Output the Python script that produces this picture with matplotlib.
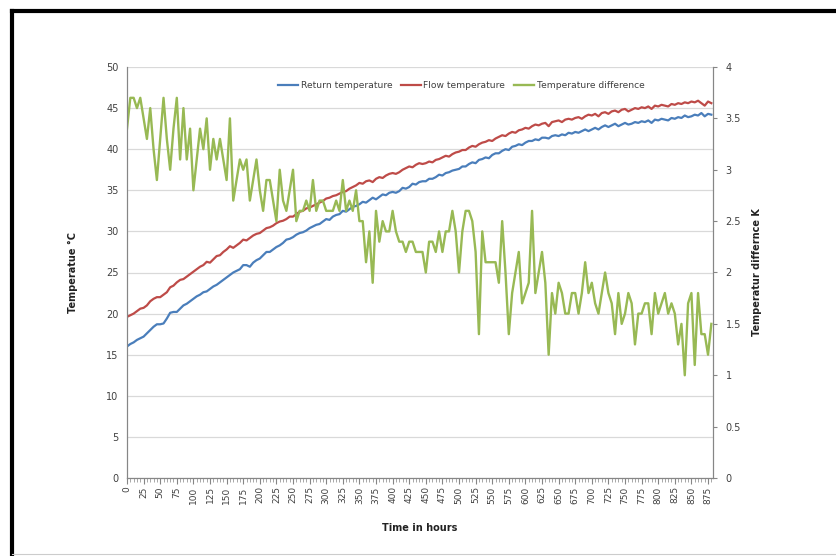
import matplotlib
matplotlib.use("Agg")
import matplotlib.pyplot as plt
from matplotlib.lines import Line2D

# time axis: one reading every 5 hours
hours = list(range(0, 885, 5))

return_temp = [
    16.0, 16.3, 16.5, 16.8, 17.0, 17.2, 17.6, 18.0, 18.4, 18.7,
    18.7, 18.8, 19.4, 20.1, 20.2, 20.2, 20.6, 21.0, 21.2, 21.5,
    21.8, 22.1, 22.3, 22.6, 22.7, 23.0, 23.3, 23.5, 23.8, 24.1,
    24.4, 24.7, 25.0, 25.2, 25.4, 25.9, 25.9, 25.7, 26.2, 26.5,
    26.7, 27.1, 27.5, 27.5, 27.8, 28.1, 28.3, 28.6, 29.0, 29.1,
    29.3, 29.6, 29.8, 29.9, 30.1, 30.4, 30.6, 30.8, 30.9, 31.2,
    31.5, 31.4, 31.8, 32.0, 32.1, 32.5, 32.4, 32.7, 33.0, 33.1,
    33.3, 33.6, 33.5, 33.8, 34.1, 33.9, 34.2, 34.5, 34.4, 34.7,
    34.8, 34.7, 34.9, 35.3, 35.2, 35.4, 35.8, 35.7, 36.0, 36.1,
    36.1, 36.4, 36.4, 36.6, 36.9, 36.8, 37.1, 37.2, 37.4, 37.5,
    37.6, 37.9, 37.9, 38.2, 38.4, 38.3, 38.7, 38.8, 39.0, 38.9,
    39.3, 39.5, 39.5, 39.8, 40.0, 39.9, 40.3, 40.4, 40.6, 40.5,
    40.8, 41.0, 41.0, 41.2, 41.1, 41.4, 41.4, 41.3, 41.6, 41.7,
    41.6, 41.8, 41.7, 42.0, 41.9, 42.1, 42.0, 42.2, 42.4, 42.2,
    42.4, 42.6, 42.4, 42.7, 42.9, 42.7, 42.9, 43.1, 42.8, 43.0,
    43.2, 43.0, 43.1, 43.3, 43.2, 43.4, 43.3, 43.5, 43.2, 43.6,
    43.5, 43.7, 43.6, 43.5, 43.8, 43.7, 43.9, 43.8, 44.1, 43.9,
    44.0, 44.2, 44.1, 44.4, 44.0, 44.3, 44.2,
]

flow_temp = [
    19.6, 19.8, 20.0, 20.3, 20.6, 20.7, 21.0, 21.5, 21.8, 22.0,
    22.0, 22.3, 22.6, 23.2, 23.4, 23.8, 24.1, 24.2, 24.5, 24.8,
    25.1, 25.4, 25.7, 25.9, 26.3, 26.2, 26.6, 27.0, 27.1, 27.5,
    27.8, 28.2, 28.0, 28.3, 28.6, 29.0, 28.9, 29.2, 29.5, 29.7,
    29.8, 30.1, 30.4, 30.5, 30.7, 31.0, 31.2, 31.3, 31.5, 31.8,
    31.8, 32.1, 32.4, 32.5, 32.8, 32.9, 33.1, 33.3, 33.5, 33.7,
    34.0, 34.1, 34.3, 34.4, 34.6, 34.8, 34.9, 35.2, 35.4, 35.6,
    35.9, 35.8, 36.1, 36.2, 36.0, 36.4, 36.6, 36.5, 36.8, 37.0,
    37.1, 37.0, 37.2, 37.5, 37.7, 37.9, 37.8, 38.1, 38.3, 38.2,
    38.3, 38.5, 38.4, 38.7, 38.8, 39.0, 39.2, 39.1, 39.4, 39.6,
    39.7, 39.9, 39.9, 40.2, 40.4, 40.3, 40.6, 40.8, 40.9, 41.1,
    41.0, 41.3, 41.5, 41.7, 41.6, 41.9, 42.1, 42.0, 42.3, 42.4,
    42.6, 42.5, 42.8, 43.0, 42.9, 43.1, 43.2, 42.8, 43.3, 43.4,
    43.5, 43.3, 43.6, 43.7, 43.6, 43.8, 43.9, 43.7, 44.0, 44.2,
    44.1, 44.3, 44.0, 44.4, 44.5, 44.3, 44.6, 44.7, 44.5, 44.8,
    44.9, 44.6, 44.8, 45.0, 44.9, 45.1, 45.0, 45.2, 44.9, 45.3,
    45.2, 45.4, 45.3, 45.2, 45.5, 45.4, 45.6, 45.5, 45.7, 45.6,
    45.8, 45.7, 45.9, 45.6, 45.3, 45.8, 45.6,
]

temp_diff = [
    3.4, 3.7, 3.7, 3.6, 3.7, 3.5, 3.3, 3.6, 3.2, 2.9,
    3.3, 3.7, 3.3, 3.0, 3.4, 3.7, 3.1, 3.6, 3.1, 3.4,
    2.8, 3.1, 3.4, 3.2, 3.5, 3.0, 3.3, 3.1, 3.3, 3.1,
    2.9, 3.5, 2.7, 2.9, 3.1, 3.0, 3.1, 2.7, 2.9, 3.1,
    2.8, 2.6, 2.9, 2.9, 2.7, 2.5, 3.0, 2.7, 2.6, 2.8,
    3.0, 2.5, 2.6, 2.6, 2.7, 2.6, 2.9, 2.6, 2.7, 2.7,
    2.6, 2.6, 2.6, 2.7, 2.6, 2.9, 2.6, 2.7, 2.6, 2.8,
    2.5, 2.5, 2.1, 2.4, 1.9, 2.6, 2.3, 2.5, 2.4, 2.4,
    2.6, 2.4, 2.3, 2.3, 2.2, 2.3, 2.3, 2.2, 2.2, 2.2,
    2.0, 2.3, 2.3, 2.2, 2.4, 2.2, 2.4, 2.4, 2.6, 2.4,
    2.0, 2.4, 2.6, 2.6, 2.5, 2.2, 1.4, 2.4, 2.1, 2.1,
    2.1, 2.1, 1.9, 2.5, 2.0, 1.4, 1.8, 2.0, 2.2, 1.7,
    1.8, 1.9, 2.6, 1.8, 2.0, 2.2, 1.9, 1.2, 1.8, 1.6,
    1.9, 1.8, 1.6, 1.6, 1.8, 1.8, 1.6, 1.8, 2.1, 1.8,
    1.9, 1.7, 1.6, 1.8, 2.0, 1.8, 1.7, 1.4, 1.8, 1.5,
    1.6, 1.8, 1.7, 1.3, 1.6, 1.6, 1.7, 1.7, 1.4, 1.8,
    1.6, 1.7, 1.8, 1.6, 1.7, 1.6, 1.3, 1.5, 1.0, 1.7,
    1.8, 1.1, 1.8, 1.4, 1.4, 1.2, 1.5,
]

BLUE = "#4a7ebb"
RED = "#be4b48"
GREEN = "#98b954"
TXT = "#404040"
AXC = "#868686"

fig = plt.figure(figsize=(8.36, 5.56), dpi=100)
ax = fig.add_axes([127 / 836, 1 - 478 / 556, 586 / 836, 411 / 556])
ax2 = ax.twinx()

# categories drawn as positions 0..n-1 (Excel style category axis)
pos = list(range(len(hours)))
ax.plot(pos, return_temp, color=BLUE, lw=1.6)
ax.plot(pos, flow_temp, color=RED, lw=1.6)
ax2.plot(pos, temp_diff, color=GREEN, lw=1.7)

ax.set_xlim(0, len(hours) - 0.5)
ax.set_ylim(0, 50)
ax2.set_ylim(0, 4)
ax.set_yticks(range(0, 51, 5))
ax2.set_yticks([0, 0.5, 1, 1.5, 2, 2.5, 3, 3.5, 4])
ax2.set_yticklabels(["0", "0.5", "1", "1.5", "2", "2.5", "3", "3.5", "4"])

ax.set_xticks(pos[::5])
ax.set_xticklabels([str(h) for h in hours[::5]], rotation=90)
ax.set_xticks(pos, minor=True)

ax.grid(axis="y", color="#d9d9d9", lw=0.9)
ax.set_axisbelow(True)

for a in (ax, ax2):
    a.spines["top"].set_visible(False)
    for s in ("left", "right", "bottom"):
        a.spines[s].set_color(AXC)
        a.spines[s].set_linewidth(0.8)
ax.tick_params(axis="x", which="major", length=4, color=AXC, labelsize=6.5,
               labelcolor=TXT, pad=2)
ax.tick_params(axis="x", which="minor", length=3, color=AXC, width=0.5)
ax.tick_params(axis="y", length=0, labelsize=7, labelcolor=TXT, pad=6)
ax2.tick_params(axis="y", length=3, color=AXC, labelsize=7, labelcolor=TXT, pad=6)

ax.set_ylabel("Temperatue °C", fontsize=7, fontweight="bold", color="#222222",
              labelpad=20)
ax2.set_ylabel("Temperatur differnce K", fontsize=7, fontweight="bold",
               color="#222222", labelpad=8)
ax.set_xlabel("Time in hours", fontsize=7, fontweight="bold", color="#222222",
              labelpad=14)

handles = [Line2D([], [], color=BLUE, lw=1.6),
           Line2D([], [], color=RED, lw=1.6),
           Line2D([], [], color=GREEN, lw=1.7)]
ax.legend(handles, ["Return temperature", "Flow temperature",
                    "Temperature difference"],
          loc="upper center", bbox_to_anchor=(0.57, 0.985), ncol=3,
          frameon=False, fontsize=6.6, handlelength=2.2, handletextpad=0.3,
          columnspacing=0.9, labelcolor=TXT)

# black frame (left and top edges visible in the original)
fig.add_artist(Line2D([12 / 836, 12 / 836], [0, 1 - 11 / 556],
                      transform=fig.transFigure, color="black", lw=3))
fig.add_artist(Line2D([12 / 836, 1], [1 - 11 / 556, 1 - 11 / 556],
                      transform=fig.transFigure, color="black", lw=3))
fig.add_artist(Line2D([12 / 836, 1], [1 - 554 / 556, 1 - 554 / 556],
                      transform=fig.transFigure, color="#cccccc", lw=0.8))

fig.savefig("out.png", dpi=100)
